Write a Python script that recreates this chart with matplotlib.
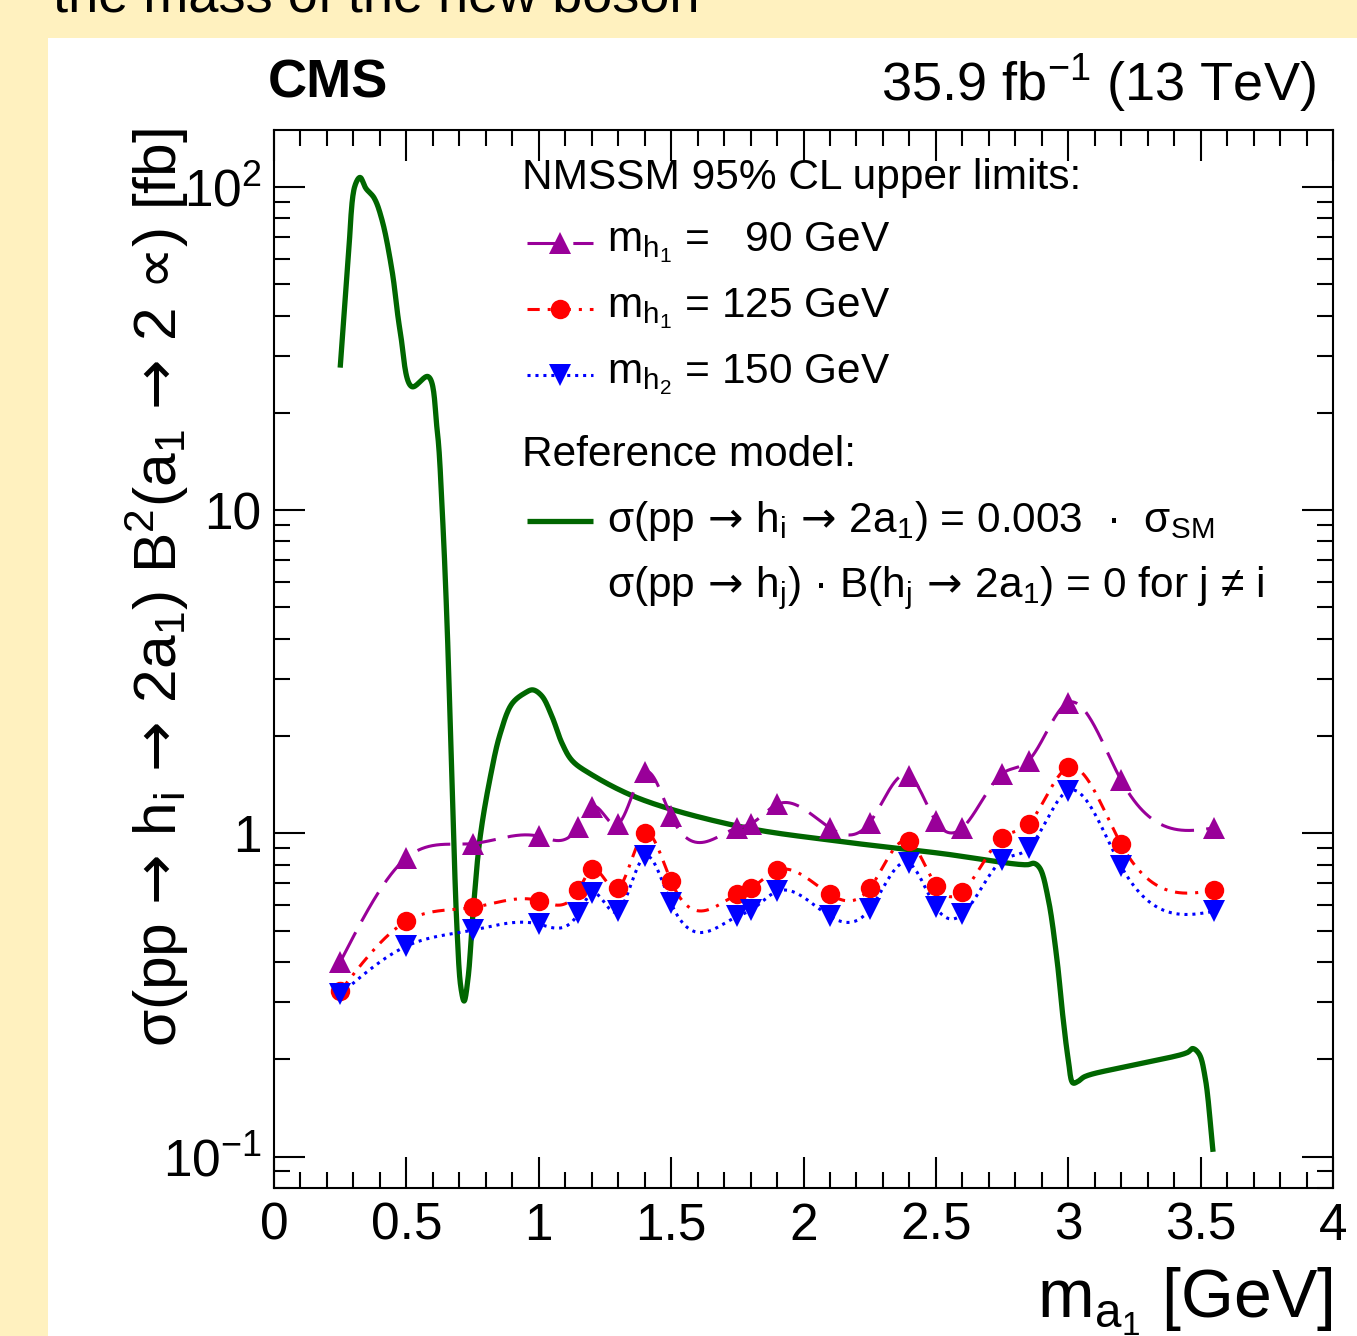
import numpy as np
import matplotlib
matplotlib.use("Agg")
import matplotlib.pyplot as plt
from matplotlib.lines import Line2D
from matplotlib.patches import Rectangle
from matplotlib.ticker import FixedLocator, FuncFormatter, LogLocator, NullFormatter

plt.rcParams['font.family'] = ['Liberation Sans', 'DejaVu Sans']
plt.rcParams['mathtext.fontset'] = 'custom'
plt.rcParams['mathtext.rm'] = 'Liberation Sans'
plt.rcParams['mathtext.it'] = 'Liberation Sans:italic'
plt.rcParams['mathtext.bf'] = 'Liberation Sans:bold'
plt.rcParams['mathtext.sf'] = 'DejaVu Sans'

# ---------------- data ----------------
ma = [0.25, 0.5, 0.75, 1.0, 1.15, 1.2, 1.3, 1.4, 1.5, 1.75, 1.8, 1.9, 2.1,
      2.25, 2.4, 2.5, 2.6, 2.75, 2.85, 3.0, 3.2, 3.55]
lim_h1_90 = [0.40, 0.84, 0.93, 0.98, 1.05, 1.21, 1.07, 1.55, 1.13, 1.04, 1.07, 1.23, 1.04,
             1.08, 1.51, 1.09, 1.04, 1.53, 1.68, 2.54, 1.46, 1.04]
lim_h1_125 = [0.325, 0.535, 0.59, 0.62, 0.667, 0.774, 0.676, 1.0, 0.711, 0.648, 0.676, 0.769, 0.648,
              0.676, 0.945, 0.69, 0.66, 0.97, 1.07, 1.60, 0.925, 0.667]
lim_h2_150 = [0.318, 0.448, 0.502, 0.524, 0.566, 0.653, 0.574, 0.849, 0.608, 0.554, 0.578, 0.662, 0.554,
              0.582, 0.808, 0.591, 0.562, 0.825, 0.899, 1.357, 0.791, 0.574]

ref_x = [0.25, 0.28, 0.306, 0.325, 0.347, 0.378, 0.408, 0.446, 0.476, 0.521, 0.582,
         0.616, 0.635, 0.653, 0.672, 0.691, 0.706, 0.718, 0.733, 0.752, 0.778, 0.816,
         0.854, 0.899, 0.948, 0.978, 1.012, 1.05, 1.088, 1.126, 1.194, 1.382, 1.76,
         2.138, 2.516, 2.844, 2.871, 2.893, 2.924, 2.957, 2.98, 3.0, 3.018, 3.037,
         3.063, 3.245, 3.45, 3.47, 3.494, 3.517, 3.547]
ref_y = [27.6, 59.5, 101, 107, 99, 92.5, 79, 55, 36, 24.1, 25.9,
         17.8, 10.1, 4.6, 1.48, 0.51, 0.333, 0.303, 0.357, 0.574, 0.965, 1.48,
         2.03, 2.52, 2.72, 2.78, 2.66, 2.3, 1.9, 1.68, 1.53, 1.28, 1.05,
         0.945, 0.868, 0.80, 0.808, 0.78, 0.63, 0.41, 0.27, 0.20, 0.169, 0.171,
         0.177, 0.192, 0.21, 0.216, 0.208, 0.176, 0.1035]

xticks = [0, 0.5, 1, 1.5, 2, 2.5, 3, 3.5, 4]
ytick_vals = [0.1, 1, 10, 100]
ytick_labels = ['$10^{-1}$', '1', '10', '$10^{2}$']

XMIN, XMAX = 0.0, 4.0
YMIN, YMAX = 0.080, 150.0


# ---------------- helpers ----------------
def nat_spline(x, y, xs):
    x = np.asarray(x, float); y = np.asarray(y, float); n = len(x); h = np.diff(x)
    A = np.zeros((n, n)); r = np.zeros(n)
    A[0, 0] = A[-1, -1] = 1
    for i in range(1, n - 1):
        A[i, i - 1] = h[i - 1]; A[i, i] = 2 * (h[i - 1] + h[i]); A[i, i + 1] = h[i]
        r[i] = 6 * ((y[i + 1] - y[i]) / h[i] - (y[i] - y[i - 1]) / h[i - 1])
    M = np.linalg.solve(A, r)
    idx = np.clip(np.searchsorted(x, xs) - 1, 0, n - 2)
    x0 = x[idx]; x1 = x[idx + 1]; hh = x1 - x0; t0 = x1 - xs; t1 = xs - x0
    return ((M[idx] * t0 ** 3 + M[idx + 1] * t1 ** 3) / (6 * hh)
            + (y[idx] / hh - M[idx] * hh / 6) * t0 + (y[idx + 1] / hh - M[idx + 1] * hh / 6) * t1)


def smooth_log(x, y):
    xs = np.linspace(min(x), max(x), 1500)
    ly = nat_spline(x, np.log10(y), xs)
    return xs, 10 ** ly


def catmull(px, py, n=20):
    P = np.column_stack([px, py])
    P = np.vstack([2 * P[0] - P[1], P, 2 * P[-1] - P[-2]])
    out = []
    for i in range(1, len(P) - 2):
        p0, p1, p2, p3 = P[i - 1], P[i], P[i + 1], P[i + 2]
        t0 = 0.0
        t1 = t0 + np.linalg.norm(p1 - p0) ** 0.5
        t2 = t1 + np.linalg.norm(p2 - p1) ** 0.5
        t3 = t2 + np.linalg.norm(p3 - p2) ** 0.5
        t = np.linspace(t1, t2, n)[:, None]
        A1 = (t1 - t) / (t1 - t0) * p0 + (t - t0) / (t1 - t0) * p1
        A2 = (t2 - t) / (t2 - t1) * p1 + (t - t1) / (t2 - t1) * p2
        A3 = (t3 - t) / (t3 - t2) * p2 + (t - t2) / (t3 - t2) * p3
        B1 = (t2 - t) / (t2 - t0) * A1 + (t - t0) / (t2 - t0) * A2
        B2 = (t3 - t) / (t3 - t1) * A2 + (t - t1) / (t3 - t1) * A3
        C = (t2 - t) / (t2 - t1) * B1 + (t - t1) / (t2 - t1) * B2
        out.append(C[:-1])
    out.append(P[-2][None, :])
    return np.vstack(out)


W, H = 1357, 1336
fx = lambda p: p / W
fy = lambda p: 1 - p / H
ARR = r'$\,\mathsf{\rightarrow}\,$'
PROP = r'$\mathsf{∝}$'

fig = plt.figure(figsize=(W / 100, H / 100), dpi=100)
fig.patch.set_facecolor('#FFF1BF')
fig.add_artist(Rectangle((fx(48), 0), 1 - fx(48), fy(38), transform=fig.transFigure,
                         facecolor='white', edgecolor='none', zorder=0))
fig.text(fx(53), fy(12), 'the mass of the new boson', fontsize=39, va='baseline', ha='left')

ax = fig.add_axes([fx(274), fy(1188), fx(1333) - fx(274), fy(130) - fy(1188)])
ax.set_yscale('log')
ax.set_xlim(XMIN, XMAX)
ax.set_ylim(YMIN, YMAX)

# reference model (green)
lmin, lmax = np.log10(YMIN), np.log10(YMAX)
u = np.array(ref_x) / (XMAX - XMIN)
v = (np.log10(ref_y) - lmin) / (lmax - lmin)
C = catmull(u, v)
ax.plot(C[:, 0] * (XMAX - XMIN), 10 ** (C[:, 1] * (lmax - lmin) + lmin),
        color='#006600', lw=3.8, solid_capstyle='butt', zorder=2)

purple, red, blue = '#990099', '#FF0000', '#0000FF'
styles = [
    (lim_h1_90, purple, (0, (11, 4)), '^', 16),
    (lim_h1_125, red, (0, (4, 2.6, 1, 2.6)), 'o', 14),
    (lim_h2_150, blue, (0, (1, 1.6)), 'v', 16),
]
for vals, col, ls, mk, ms in styles:
    xs, ys = smooth_log(ma, vals)
    ax.plot(xs, ys, color=col, lw=2.2, linestyle=ls, zorder=3)
    ax.plot(ma, vals, linestyle='none', marker=mk, color=col, markersize=ms,
            markeredgewidth=0, zorder=4)

# axes cosmetics
for s in ax.spines.values():
    s.set_linewidth(1.5)
ax.xaxis.set_major_locator(FixedLocator(xticks))
ax.xaxis.set_minor_locator(FixedLocator(np.arange(0, 4.001, 0.1)))
ax.xaxis.set_major_formatter(FuncFormatter(lambda val, pos: '%g' % val))
ax.yaxis.set_major_locator(FixedLocator(ytick_vals))
ax.yaxis.set_major_formatter(FuncFormatter(
    lambda val, pos: ytick_labels[int(np.argmin(np.abs(np.log10(ytick_vals) - np.log10(val))))]))
ax.yaxis.set_minor_locator(LogLocator(base=10, subs=np.arange(2, 10), numticks=20))
ax.yaxis.set_minor_formatter(NullFormatter())
ax.tick_params(which='both', direction='in', top=True, right=True, width=1.5, labelsize=37)
ax.tick_params(which='major', length=22)
ax.tick_params(which='minor', length=11.5)
ax.tick_params(axis='x', which='major', pad=10)
ax.tick_params(axis='y', which='major', pad=9)

# titles
fig.text(fx(268), fy(84), 'CMS', fontsize=39, fontweight='bold', ha='left', va='center')
fig.text(fx(1316), fy(84), '35.9 fb$^{\\mathrm{-1}}$ (13 TeV)', fontsize=39, ha='right', va='center')
fig.text(fx(157), fy(128),
         'σ(pp' + ARR + 'h$_{\\mathrm{i}}$' + ARR + '2a$_{1}$) B$^{2}$(a$_{1}$' + ARR
         + '2 ' + PROP + ') [fb]',
         rotation=90, fontsize=43.5, ha='center', va='top')
fig.text(fx(1333), fy(1318), 'm$_{\\mathrm{a}_{1}}$ [GeV]', fontsize=49, ha='right', va='baseline')

# legend
lfs = 30.5
fig.text(fx(522), fy(178), 'NMSSM 95% CL upper limits:', fontsize=lfs, ha='left', va='center')
leg_rows = [
    (243, purple, (0, (11, 4)), '^', 16, 'm$_{\\mathrm{h}_{1}}$ =   90 GeV'),
    (309, red, (0, (4, 2.6, 1, 2.6)), 'o', 14, 'm$_{\\mathrm{h}_{1}}$ = 125 GeV'),
    (375, blue, (0, (1, 1.6)), 'v', 16, 'm$_{\\mathrm{h}_{2}}$ = 150 GeV'),
]
for py, col, ls, mk, ms, lab in leg_rows:
    fig.add_artist(Line2D([fx(527), fx(593)], [fy(py), fy(py)], transform=fig.transFigure,
                          color=col, lw=2.2, linestyle=ls))
    fig.add_artist(Line2D([fx(560)], [fy(py)], transform=fig.transFigure, color=col,
                          marker=mk, markersize=ms, markeredgewidth=0, linestyle='none'))
    fig.text(fx(607), fy(py), lab, fontsize=lfs, ha='left', va='center')

fig.text(fx(522), fy(455), 'Reference model:', fontsize=lfs, ha='left', va='center')
fig.add_artist(Line2D([fx(527), fx(593)], [fy(521), fy(521)], transform=fig.transFigure,
                      color='#006600', lw=3.8, solid_capstyle='butt'))
fig.text(fx(607), fy(521),
         'σ(pp' + ARR + 'h$_{\\mathrm{i}}$' + ARR + '2a$_{1}$) = 0.003  ·  σ$_{\\mathrm{SM}}$',
         fontsize=lfs, ha='left', va='center')
fig.text(fx(607), fy(588),
         'σ(pp' + ARR + 'h$_{\\mathrm{j}}$) · B(h$_{\\mathrm{j}}$' + ARR
         + '2a$_{1}$) = 0 for j ≠ i',
         fontsize=lfs, ha='left', va='center')

fig.savefig('out.png', dpi=100, facecolor=fig.get_facecolor())
